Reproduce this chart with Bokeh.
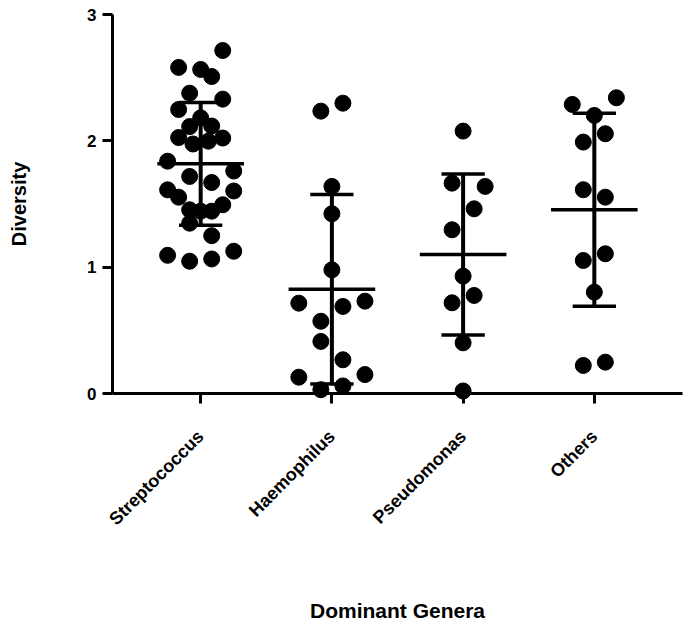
import numpy as np
from bokeh.plotting import figure
from bokeh.models import FixedTicker, Range1d, ColumnDataSource
from bokeh.embed import file_html
from bokeh.resources import INLINE

categories = ["Streptococcus", "Haemophilus", "Pseudomonas", "Others"]

strep_values = [2.715, 2.581, 2.565, 2.509, 2.377, 2.330, 2.248, 2.182, 2.113, 2.117,
                 2.026, 1.975, 1.997, 2.022, 1.839, 1.761, 1.718, 1.670, 1.612, 1.554,
                 1.603, 1.494, 1.454, 1.443, 1.443, 1.348, 1.249, 1.094, 1.047, 1.065, 1.126]
strep_jitter = [2, -2, 0, 1, -1, 2, -2, 0, -1, 1, -2, -0.7, 0.7, 2, -3, 3, -1, 1, -3, -2,
                3, 2, -1, 0, 1, -1, 1, -3, -1, 1, 3]
haem_values = [2.298, 2.235, 1.639, 1.423, 0.979, 0.715, 0.689, 0.731, 0.572, 0.412,
               0.267, 0.129, 0.150, 0.06, 0.03]
haem_jitter = [1, -1, 0, 0, 0, -3, 1, 3, -1, -1, 1, -3, 3, 1, -1]
pseudo_values = [2.077, 1.665, 1.639, 1.462, 1.296, 0.929, 0.776, 0.718, 0.401, 0.02]
pseudo_jitter = [0, -1, 2, 1, -1, 0, 1, -1, 0, 0]
others_values = [2.288, 2.341, 2.201, 2.056, 1.990, 1.613, 1.554, 1.106, 1.053, 0.802,
                 0.222, 0.248]
others_jitter = [-2, 2, 0, 1, -1, -1, 1, 1, -1, 0, -1, 1]

group_means = [1.818, 0.825, 1.100, 1.455]
group_sds = [0.486, 0.750, 0.637, 0.764]

y_ticks = [0, 1, 2, 3]

JSTEP = 0.084
all_values = [strep_values, haem_values, pseudo_values, others_values]
all_jitter = [strep_jitter, haem_jitter, pseudo_jitter, others_jitter]

xs, ys = [], []
for i, (vals, jit) in enumerate(zip(all_values, all_jitter)):
    for v, j in zip(vals, jit):
        xs.append(i + j * JSTEP)
        ys.append(v)
pts = ColumnDataSource(dict(x=xs, y=ys))

idx = np.arange(len(categories))
m = np.array(group_means)
s = np.array(group_sds)

FONT = "Liberation Sans"

p = figure(width=684, height=630, output_backend="svg", toolbar_location=None,
           x_range=Range1d(-0.672, 3.672), y_range=Range1d(0, 3),
           min_border_left=112, min_border_right=2, min_border_top=14,
           min_border_bottom=237)
p.outline_line_color = None
p.xgrid.visible = False
p.ygrid.visible = False
p.background_fill_color = "white"
p.border_fill_color = "white"

# error bars
p.segment(x0=idx, y0=m - s, x1=idx, y1=m + s, line_color="black", line_width=4)
p.segment(x0=idx - 0.165, y0=m + s, x1=idx + 0.165, y1=m + s, line_color="black", line_width=3.5)
p.segment(x0=idx - 0.165, y0=m - s, x1=idx + 0.165, y1=m - s, line_color="black", line_width=3.5)
p.segment(x0=idx - 0.33, y0=m, x1=idx + 0.33, y1=m, line_color="black", line_width=3.5)

p.scatter("x", "y", source=pts, size=16, fill_color="black", line_color="black",
          level="overlay")

for ax in (p.xaxis[0], p.yaxis[0]):
    ax.axis_line_width = 3
    ax.major_tick_line_width = 3
    ax.major_tick_out = 10
    ax.major_tick_in = 0
    ax.minor_tick_line_color = None
    ax.major_label_text_font = FONT
    ax.major_label_text_font_style = "bold"
    ax.major_label_text_color = "black"
    ax.axis_label_text_font = FONT
    ax.axis_label_text_font_style = "bold"
    ax.axis_label_text_color = "black"

p.yaxis.ticker = FixedTicker(ticks=y_ticks)
p.yaxis.major_label_text_font_size = "17px"
p.yaxis.major_label_standoff = 6
p.yaxis.axis_label = "Diversity"
p.yaxis.axis_label_text_font_size = "20px"
p.yaxis.axis_label_standoff = 54

p.xaxis.ticker = FixedTicker(ticks=list(range(len(categories))))
p.xaxis.major_label_overrides = {i: c for i, c in enumerate(categories)}
p.xaxis.major_label_orientation = np.pi / 4
p.xaxis.major_label_text_font_size = "18px"
p.xaxis.major_label_standoff = 30
p.xaxis.axis_label = "Dominant Genera"
p.xaxis.axis_label_text_font_size = "21px"
p.xaxis.axis_label_standoff = 60

open("out.html", "w").write(file_html(p, INLINE))
